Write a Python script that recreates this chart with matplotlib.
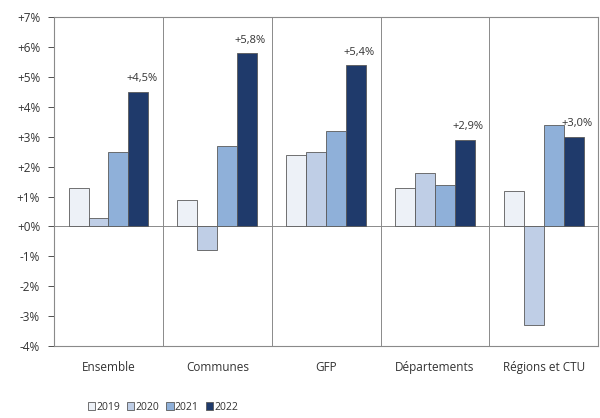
import numpy as np
import matplotlib.pyplot as plt
from matplotlib.ticker import FuncFormatter

categories = ["Ensemble", "Communes", "GFP", "Départements", "Régions et CTU"]
years = ["2019", "2020", "2021", "2022"]
v2019 = [1.3, 0.9, 2.4, 1.3, 1.2]
v2020 = [0.3, -0.8, 2.5, 1.8, -3.3]
v2021 = [2.5, 2.7, 3.2, 1.4, 3.4]
v2022 = [4.5, 5.8, 5.4, 2.9, 3.0]
labels_2022 = ["+4,5%", "+5,8%", "+5,4%", "+2,9%", "+3,0%"]

plt.rcParams['font.family'] = ['Open Sans', 'DejaVu Sans']

fig = plt.figure(figsize=(6, 4.18), dpi=100)
ax = fig.add_axes([0.09, 0.172, 0.907, 0.787])

colors = ['#EDF1F7', '#BFCEE6', '#8FB0D9', '#1F3A6B']
series = [v2019, v2020, v2021, v2022]
x = np.arange(len(categories))
w = 0.183
for i, vals in enumerate(series):
    ax.bar(x + (i - 1.5) * w, vals, w, color=colors[i], edgecolor='#5a5a5a',
           linewidth=0.6, label=years[i], zorder=3)

for i, (v, t) in enumerate(zip(v2022, labels_2022)):
    ax.text(x[i] + 1.5 * w + 0.03, v + 0.25, t, ha='center', va='bottom',
            fontsize=8, color='#333333', zorder=4)

ax.set_xlim(-0.5, len(categories) - 0.5)
ax.set_ylim(-4, 7)
ax.set_yticks(range(-4, 8))
ax.yaxis.set_major_formatter(FuncFormatter(lambda v, p: f"{int(v):+d}%"))
ax.set_xticks(x)
ax.set_xticklabels(categories)
ax.tick_params(axis='x', length=0, pad=11, labelsize=8.5, colors='#333333')
ax.tick_params(axis='y', length=4, labelsize=8.5, colors='#333333', width=0.6, pad=6)

for b in np.arange(0.5, len(categories) - 0.5, 1):
    ax.axvline(b, color='#8a8a8a', linewidth=0.7, zorder=1)
ax.axhline(0, color='#8a8a8a', linewidth=0.7, zorder=2)

for s in ax.spines.values():
    s.set_color('#8a8a8a')
    s.set_linewidth(0.8)

leg = ax.legend(loc='upper center', bbox_to_anchor=(0.2, -0.14), ncol=4,
                frameon=False, fontsize=7.5, handlelength=0.7, handleheight=0.7,
                handletextpad=0.1, columnspacing=0.7)
for t in leg.get_texts():
    t.set_color('#333333')

fig.savefig("out.png", dpi=100)
